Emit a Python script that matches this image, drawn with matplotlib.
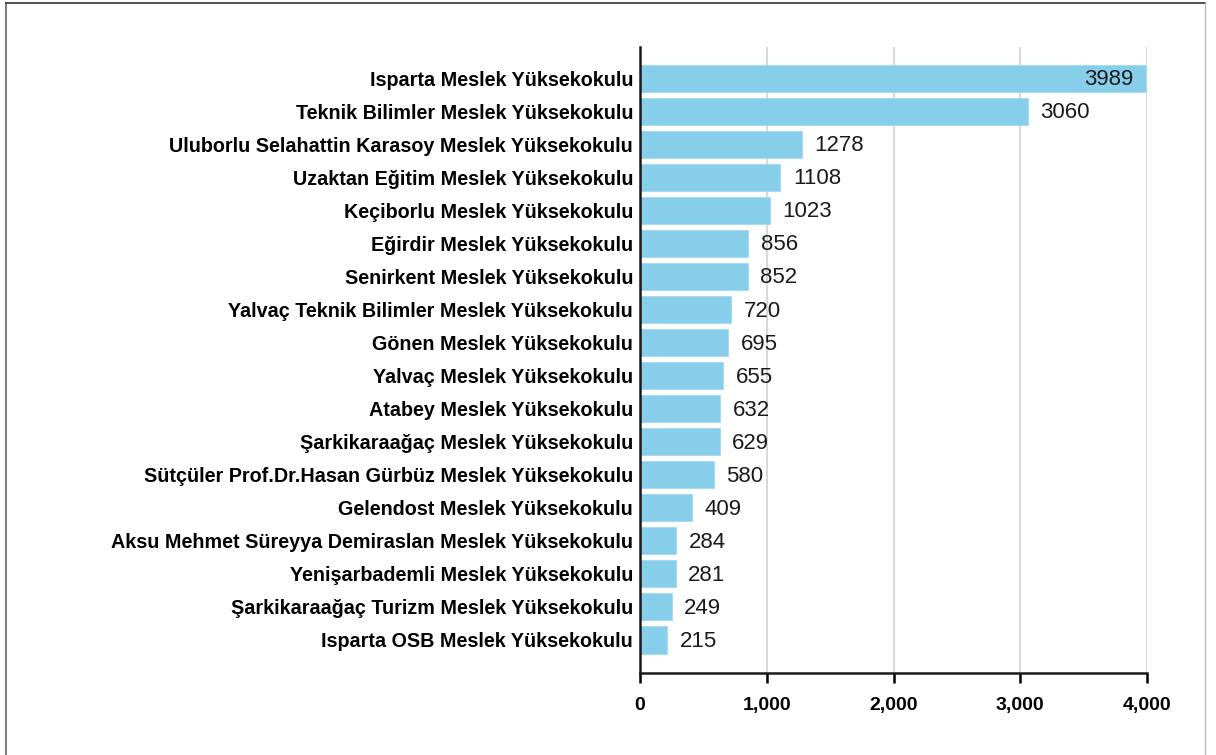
import matplotlib
matplotlib.use("Agg")
import matplotlib.pyplot as plt
from matplotlib.lines import Line2D

plt.rcParams['font.family'] = ['Liberation Sans Narrow', 'Liberation Sans', 'DejaVu Sans']

schools = ["Isparta Meslek Yüksekokulu",
           "Teknik Bilimler Meslek Yüksekokulu",
           "Uluborlu Selahattin Karasoy Meslek Yüksekokulu",
           "Uzaktan Eğitim Meslek Yüksekokulu",
           "Keçiborlu Meslek Yüksekokulu",
           "Eğirdir Meslek Yüksekokulu",
           "Senirkent Meslek Yüksekokulu",
           "Yalvaç Teknik Bilimler Meslek Yüksekokulu",
           "Gönen Meslek Yüksekokulu",
           "Yalvaç Meslek Yüksekokulu",
           "Atabey Meslek Yüksekokulu",
           "Şarkikaraağaç Meslek Yüksekokulu",
           "Sütçüler Prof.Dr.Hasan Gürbüz Meslek Yüksekokulu",
           "Gelendost Meslek Yüksekokulu",
           "Aksu Mehmet Süreyya Demiraslan Meslek Yüksekokulu",
           "Yenişarbademli Meslek Yüksekokulu",
           "Şarkikaraağaç Turizm Meslek Yüksekokulu",
           "Isparta OSB Meslek Yüksekokulu"]
students = [3989, 3060, 1278, 1108, 1023, 856, 852, 720, 695, 655,
            632, 629, 580, 409, 284, 281, 249, 215]
xticks = [0, 1000, 2000, 3000, 4000]

fig = plt.figure(figsize=(12.16, 7.55), dpi=100)
ax = fig.add_axes([640/1216, 1-673/755, (1147-640)/1216, (673-47)/755])

n = len(schools)
ypos = [n - 1 - i for i in range(n)]
ax.barh(ypos, students, height=0.82, color='#87ceeb', edgecolor='#a9dcf0',
        linewidth=0.8, zorder=2)

for y, v in zip(ypos, students):
    if v > 3500:
        ax.annotate(str(v), xy=(v, y), xytext=(-9, -1), textcoords='offset points',
                    ha='right', va='center', fontsize=16, color='#1a1a1a')
    else:
        ax.annotate(str(v), xy=(v, y), xytext=(9, -1), textcoords='offset points',
                    ha='left', va='center', fontsize=16, color='#1a1a1a')

ax.set_xlim(0, 4000)
ax.set_ylim(-1, n - 0.05)
ax.set_yticks(ypos)
ax.set_yticklabels(schools, fontsize=14.2, fontweight='bold')
ax.set_xticks(xticks)
ax.set_xticklabels([f"{t:,}" for t in xticks], fontsize=14, fontweight='bold')
ax.tick_params(axis='y', length=0, pad=5)
ax.tick_params(axis='x', length=7, width=1.8, direction='out', pad=10)

ax.grid(axis='x', color='#d9d9d9', linewidth=1.5, zorder=0)
ax.set_axisbelow(True)
for s in ['top', 'right']:
    ax.spines[s].set_visible(False)
for s in ['left', 'bottom']:
    ax.spines[s].set_linewidth(1.8)
    ax.spines[s].set_color('#1a1a1a')

# outer frame of the screenshot
fig.add_artist(Line2D([6/1216, 6/1216], [0, 1-3/755], color='#808080', linewidth=1.5))
fig.add_artist(Line2D([6/1216, 1205/1216], [1-3/755, 1-3/755], color='#333333', linewidth=1.2))
fig.add_artist(Line2D([1205/1216, 1205/1216], [0, 1-3/755], color='#bbbbbb', linewidth=1.0))

fig.savefig("out.png", dpi=100)
